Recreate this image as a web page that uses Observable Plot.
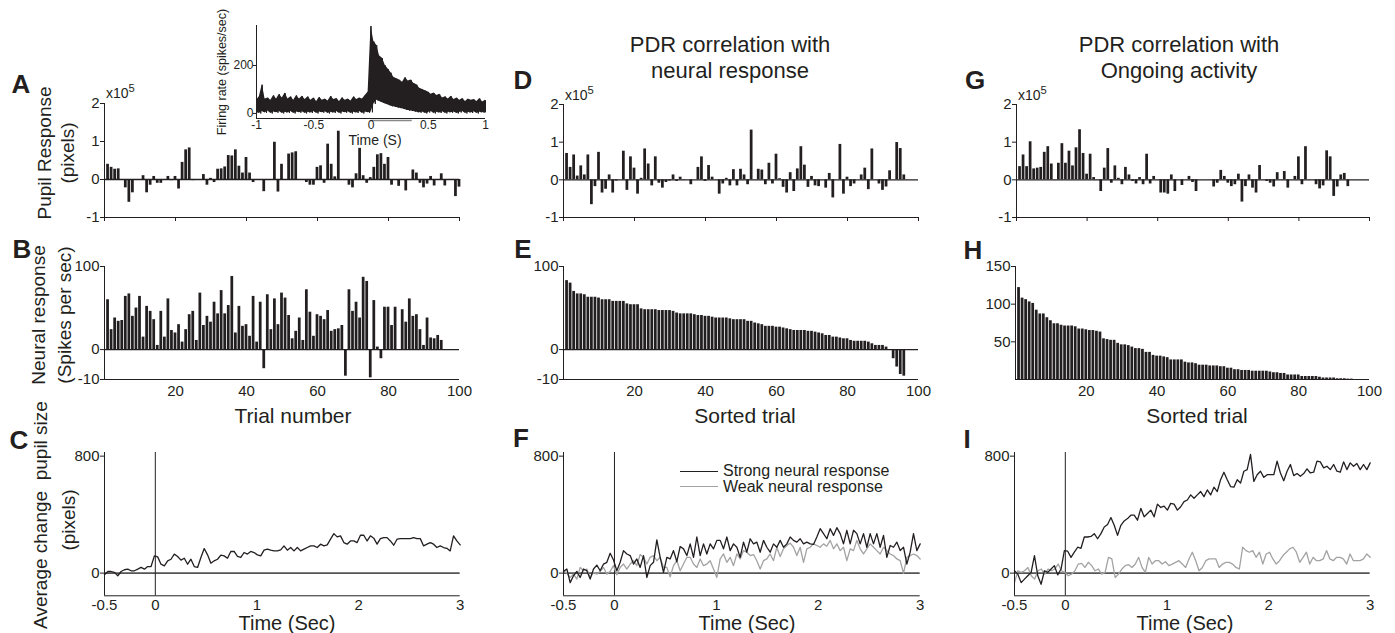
<!DOCTYPE html>
<html><head><meta charset="utf-8">
<script src="https://cdn.jsdelivr.net/npm/d3@7"></script>
<script src="https://cdn.jsdelivr.net/npm/@observablehq/plot@0.6"></script>
<style>
body{margin:0;background:#fff;}
#fig{position:relative;width:1395px;height:633px;overflow:hidden;font-family:"Liberation Sans",Arial,Helvetica,sans-serif;color:#231f20;background:#fff;}
.t{position:absolute;white-space:nowrap;line-height:1;}
sup{font-size:0.8em;vertical-align:0.55em;line-height:0;}
</style></head><body><div id="fig"></div>
<script>
// ---------------- DATA ----------------
// Panel A: pupil response per trial (x10^5 pixels)
const pupilA = [0.40,0.32,0.27,0.28,0,-0.22,-0.60,-0.35,0,0,
0.10,-0.35,-0.15,0.08,-0.10,-0.10,0,0.08,-0.03,0.08,
-0.25,0.45,0.78,0.83,-0.03,0,0,0.13,-0.15,0.03,
-0.08,0.27,0.28,0.33,0.63,0.62,0.78,0.35,0.17,0.58,
0.17,-0.08,0,0,-0.32,-0.02,0,0.98,-0.33,0.40,
0,0.67,0.70,0.73,0,0,-0.08,-0.15,-0.15,0.32,
0.36,-0.10,0.93,0.40,0.07,1.27,0,0,-0.15,-0.22,
0.15,0.82,0.10,-0.10,0.05,0.32,0.65,0.68,0.40,0.58,
-0.15,0,-0.18,0,-0.30,0,0.25,0.17,-0.10,-0.22,
-0.12,0.08,-0.17,0,0.15,-0.17,0,0,-0.45,-0.20];
// Panel B: neural response per trial (spikes/sec)
const neuralB = [60,24,38,34,35,64,67,40,50,64,
15,52,46,36,5,46,15,61,23,20,
30,9,24,42,46,11,68,29,40,33,
57,43,71,43,53,88,20,52,28,30,
16,64,9,57,-23,66,24,61,30,68,
62,41,13,22,38,11,72,45,16,42,
40,36,47,22,24,25,29,-32,72,46,
57,38,87,82,-34,59,3,-11,51,51,
29,51,0,48,33,61,40,42,24,5,
38,14,13,17,11];
// Panel D: pupil response sorted by neural response (x10^5)
const pupilD = [0.70,0.33,0.66,0.10,0.37,0.13,0.66,-0.66,-0.18,0.73,
-0.35,-0.25,0.13,-0.35,-0.03,0,0.76,-0.28,0.61,0.31,
-0.38,0.04,0.82,0.42,-0.16,0.61,-0.09,-0.22,-0.07,-0.03,
0.13,-0.04,0.07,-0.01,0,-0.13,0,0.33,0.61,-0.04,
0.38,0.07,0,-0.38,-0.11,0.04,-0.16,0.27,-0.16,0.28,
0.13,-0.13,1.32,0,0.28,0.26,-0.13,0.44,-0.11,0.68,
0.03,-0.20,-0.35,0.19,-0.31,0.29,0.88,0.39,-0.20,0.09,
-0.16,-0.18,0,-0.22,0.17,-0.48,0,0.94,-0.38,0.07,
-0.18,-0.11,0,0.13,0.31,-0.26,0.82,0,-0.11,-0.28,
-0.19,0.24,0,0.99,0.83,0.13];
// Panel E: sorted neural response
const neuralE = [83,80,70,67,67,66,63,63,63,62,
60,60,60,58,58,58,58,55,54,54,
54,49,48,48,48,48,47,47,47,47,
46,44,43,43,43,43,42,41,41,40,
40,39,38,38,38,38,37,36,36,36,
36,34,34,32,31,30,28,28,28,27,
27,26,25,24,23,23,23,23,22,22,
21,20,19,17,17,15,15,14,13,13,
11,10,10,10,10,9,7,5,5,5,
3,-1,-11,-21,-30,-32];
// Panel G: pupil response sorted by ongoing activity (x10^5)
const pupilG = [0.35,0.66,0.35,1.01,0.29,0.31,0.33,0.73,0.88,0.42,
0,0.44,0.96,0.44,0.76,0.37,0.85,1.33,0.70,0.15,
0.68,0.06,0,-0.31,0.31,0.83,-0.09,0.37,0.04,-0.13,
0.33,0.13,-0.04,-0.11,0.06,-0.13,0.68,-0.11,0.09,0,
-0.35,-0.35,-0.38,0.13,-0.31,0,-0.15,0,0.09,-0.07,
-0.31,0,0,0,0,-0.19,-0.09,0.25,0.09,-0.09,
-0.18,-0.13,0.15,-0.59,-0.18,0.13,-0.22,-0.35,0.38,0,
-0.04,-0.09,-0.19,0.19,0,0.22,-0.22,0,0.09,0.61,
-0.13,0.88,0,0,-0.13,-0.24,-0.16,0.77,0.61,-0.44,
-0.19,0.13,0.17,-0.18,0];
// Panel H: sorted ongoing activity
const ongoingH = [122,108,106,103,101,92,87,87,82,78,
74,74,72,71,71,71,70,67,67,66,
65,65,64,63,54,53,52,52,48,46,
46,45,43,41,41,40,36,36,32,31,
31,30,29,26,26,26,26,23,22,22,
21,19,19,19,18,18,18,17,17,15,
15,13,13,12,12,12,11,11,11,11,
11,10,9,9,8,8,6,6,6,6,
4,4,4,4,4,3,2,2,2,2,
1,1,1,0.5,0.5];
// Panels C, F, I: average change in pupil size (pixels), sampled -0.5..3 s
const avgC = [-11,11,11,5,-18,11,23,27,16,16,27,39,27,45,45,118,111,61,50,84,
95,130,114,89,102,61,95,45,39,107,168,125,68,84,95,123,118,102,148,148,
114,107,141,130,148,141,125,118,157,164,157,152,152,159,186,157,175,152,175,152,
164,175,186,186,175,198,186,193,232,270,248,255,209,198,220,220,209,259,259,220,
255,239,198,236,243,243,220,191,232,236,236,236,236,243,236,236,186,198,209,198,
175,186,175,170,152,255,220,193];
const strongF = [12,28,-65,-18,12,-30,28,16,-41,28,55,16,62,74,136,90,16,74,154,131,
120,62,97,39,120,-30,51,74,228,108,5,108,97,154,78,182,166,120,200,108,
247,120,200,131,200,166,224,224,166,247,154,200,177,108,212,143,235,200,212,143,
224,177,143,200,177,224,177,200,247,224,212,235,200,212,200,196,247,304,270,235,
304,258,311,270,200,293,200,293,270,200,270,177,270,200,270,177,258,108,189,177,
212,154,177,62,143,270,154,200];
const weakF = [16,0,-30,-7,-41,39,16,28,-30,5,-7,12,39,-7,12,51,-12,39,62,28,
62,85,51,127,108,62,108,120,85,108,39,39,-25,51,85,16,62,108,108,62,
39,97,51,62,85,28,-30,97,131,74,108,51,131,97,154,143,120,127,85,28,
85,97,131,85,177,113,166,189,205,177,120,177,74,166,177,200,189,177,200,184,
224,166,200,154,177,85,166,154,224,166,131,166,200,177,154,131,177,154,131,120,
97,85,-2,108,120,131,120,97];
const strongI = [16,-7,-65,-41,-18,5,120,-18,-76,16,5,28,51,-12,28,154,150,108,143,177,
170,247,247,251,270,235,270,316,332,380,327,258,327,357,373,396,396,362,443,385,
408,431,385,472,449,458,431,477,472,431,454,489,500,535,512,535,558,523,569,535,
588,558,639,690,639,592,588,639,616,697,708,812,627,673,697,655,673,673,673,766,
685,632,697,743,667,681,662,681,713,685,690,766,761,720,731,708,743,697,690,761,
708,754,731,750,708,743,708,754];
const weakI = [-65,16,5,16,39,-18,-41,16,28,-7,28,16,28,62,16,5,-18,-7,16,62,
67,39,74,51,16,28,-7,5,108,97,-30,-7,28,51,58,39,62,108,39,5,
108,62,85,85,62,78,51,62,74,85,62,39,97,143,85,16,39,85,97,97,
97,39,62,74,74,62,39,28,177,154,143,154,108,143,62,131,143,97,62,85,
120,143,166,177,143,74,108,143,62,108,85,85,97,154,97,85,108,108,97,62,
131,85,85,85,97,131,108];
// Inset: firing rate envelope (spikes/sec), 25 ms bins from -1 to 1 s
const psthHigh = [55,70,120,60,65,55,75,60,80,65,85,60,70,55,75,60,72,58,70,55,
65,50,68,55,60,52,72,58,62,50,66,55,60,52,70,58,65,60,75,90,
365,300,285,240,230,200,185,170,150,145,140,130,150,135,140,125,120,105,100,95,
90,80,85,75,80,65,70,60,72,58,65,55,62,50,60,55,58,50,62,48,55];
const psthLow = [5,0,8,2,10,0,6,3,8,0,5,2,8,0,6,3,7,0,5,2,
8,0,6,3,7,0,5,2,8,0,6,3,7,0,5,2,8,0,6,3,
5,40,55,50,45,40,35,30,28,25,22,20,15,12,10,8,5,3,6,0,
4,8,0,5,2,7,0,5,3,6,0,4,8,0,5,2,7,0,5,3,6];
const stimulus = [0, 0.36];
// Tick labels
const trialTicks = [0,20,40,60,80,100];
const trialLabels = ["","20","40","60","80","100"];
const pupilTicks = [-1,0,1,2];
const pupilLabels = ["-1","0","1","2"];
const neuralTicks = [-36,0,100];
const neuralLabels = ["-10","0","100"];
const ongoingTicks = [50,100,150];
const ongoingLabels = ["50","100","150"];
const timeTicks = [-0.5,0,1,2,3];
const timeLabels = ["-0.5","0","1","2","3"];
const sizeTicks = [0,800];
const sizeLabels = ["0","800"];
const insetXTicks = [-1,-0.5,0,0.5,1];
const insetXLabels = ["-1","-0.5","0","0.5","1"];
const insetYTicks = [0,200];
const insetYLabels = ["0","200"];

// ---------------- DRAWING ----------------
const INK = "#231f20";
const GRAY = "#a3a3a3";
const FONT = '"Liberation Sans", Arial, Helvetica, sans-serif';
const fig = document.getElementById("fig");
function place(svg, left, top) {
  svg.style.position = "absolute";
  svg.style.left = left + "px";
  svg.style.top = top + "px";
  svg.style.maxWidth = "none";
  fig.appendChild(svg);
}
function fmt(ticks, labels) { const m = new Map(ticks.map((t, i) => [t, labels[i]])); return d => m.get(d) ?? ""; }
function txt(html, x, y, size, o = {}) {
  const d = document.createElement("div");
  d.className = "t";
  d.innerHTML = html;
  d.style.left = x + "px";
  d.style.top = y + "px";
  d.style.fontSize = size + "px";
  if (o.bold) d.style.fontWeight = "bold";
  const ax = o.anchor === "start" ? "0" : o.anchor === "end" ? "-100%" : "-50%";
  if (o.rotate) {
    d.style.transformOrigin = "0 0";
    d.style.transform = "rotate(-90deg) translate(-50%,-50%)";
  } else {
    d.style.transform = `translate(${ax},-50%)`;
  }
  fig.appendChild(d);
  return d;
}
const M = {l: 60, r: 25, t: 15, b: 40};
function barPanel(o) {
  const data = o.vals.map((v, i) => ({trial: i + 1, v}));
  const svg = Plot.plot({
    width: o.x1 - o.x0 + M.l + M.r, height: o.y1 - o.y0 + M.t + M.b,
    marginLeft: M.l, marginRight: M.r, marginTop: M.t, marginBottom: M.b,
    x: {domain: [0, 100], label: null}, y: {domain: o.yDomain, label: null},
    style: {fontFamily: FONT, fontSize: "15px", color: INK, background: "transparent", overflow: "visible"},
    marks: [
      Plot.rect(data, {x1: d => d.trial - 0.5, x2: d => d.trial + 0.5, y1: 0, y2: "v", fill: INK, insetLeft: 0.4, insetRight: 0.4}),
      o.zero ? Plot.ruleY([0], {stroke: INK, strokeWidth: 1.3}) : null,
      Plot.ruleX([0], {stroke: INK}),
      Plot.ruleY([o.yDomain[0]], {stroke: INK}),
      Plot.axisY({ticks: o.yTicks, tickFormat: fmt(o.yTicks, o.yLabels), tickSize: 4, tickPadding: 1, label: null}),
      Plot.axisX({ticks: trialTicks, tickFormat: o.xLabels ? fmt(trialTicks, o.xLabels) : () => "", tickSize: o.xLabels ? 0 : 4, tickPadding: o.xLabels ? 6 : 2, label: null})
    ]
  });
  place(svg, o.x0 - M.l, o.y0 - M.t);
}
function linePanel(o) {
  const svg = Plot.plot({
    width: o.x1 - o.x0 + M.l + M.r, height: o.y1 - o.y0 + M.t + M.b,
    marginLeft: M.l, marginRight: M.r, marginTop: M.t, marginBottom: M.b,
    x: {domain: [-0.5, 3], label: null}, y: {domain: [-155, 825], label: null},
    style: {fontFamily: FONT, fontSize: "15px", color: INK, background: "transparent", overflow: "visible"},
    marks: [
      Plot.ruleY([0], {stroke: "#555", strokeWidth: 1.6}),
      Plot.ruleX([0], {stroke: INK, strokeWidth: 1}),
      ...o.series.map(s => Plot.line(s.vals.map((v, i) => ({t: -0.5 + i * 3.5 / (s.vals.length - 1), v})),
        {x: "t", y: "v", stroke: s.color, strokeWidth: 1.3})),
      Plot.ruleX([-0.5], {stroke: INK}),
      Plot.ruleY([-155], {stroke: INK}),
      Plot.axisY({ticks: sizeTicks, tickFormat: fmt(sizeTicks, sizeLabels), tickSize: 4, tickPadding: 1, label: null}),
      Plot.axisX({ticks: timeTicks, tickFormat: fmt(timeTicks, timeLabels), tickSize: 0, tickPadding: 4, label: null})
    ]
  });
  place(svg, o.x0 - M.l, o.y0 - M.t);
}

// Row 1
barPanel({vals: pupilA, x0: 104, x1: 459, y0: 102.5, y1: 216.5, yDomain: [-1, 2], yTicks: pupilTicks, yLabels: pupilLabels, zero: true});
barPanel({vals: pupilD, x0: 563, x1: 918, y0: 104, y1: 217, yDomain: [-1, 2], yTicks: pupilTicks, yLabels: pupilLabels, zero: true});
barPanel({vals: pupilG, x0: 1016, x1: 1369, y0: 104, y1: 217, yDomain: [-1, 2], yTicks: pupilTicks, yLabels: pupilLabels, zero: true});
// Row 2
barPanel({vals: neuralB, x0: 104, x1: 459, y0: 266, y1: 379, yDomain: [-36, 100], yTicks: neuralTicks, yLabels: neuralLabels, xLabels: trialLabels, zero: true});
barPanel({vals: neuralE, x0: 563, x1: 918, y0: 266, y1: 379, yDomain: [-36, 100], yTicks: neuralTicks, yLabels: neuralLabels, xLabels: trialLabels, zero: true});
barPanel({vals: ongoingH, x0: 1015, x1: 1369, y0: 266, y1: 379, yDomain: [0, 150], yTicks: ongoingTicks, yLabels: ongoingLabels, xLabels: trialLabels, zero: false});
// Row 3
linePanel({x0: 104.3, x1: 460, y0: 451.7, y1: 595, series: [{vals: avgC, color: INK}]});
linePanel({x0: 563.3, x1: 920, y0: 451.7, y1: 595, series: [{vals: weakF, color: GRAY}, {vals: strongF, color: INK}]});
linePanel({x0: 1014.3, x1: 1370, y0: 451.7, y1: 595, series: [{vals: weakI, color: GRAY}, {vals: strongI, color: INK}]});

// Inset PSTH
(function () {
  const data = psthHigh.map((h, i) => ({t: -1 + i * 0.025, hi: h, lo: psthLow[i]}));
  // jagged trace: each bin's high value followed by its low value half a bin later
  const zig = data.flatMap(d => [{t: d.t, v: d.hi}, {t: Math.min(1, d.t + 0.0125), v: d.lo}]);
  const m = {l: 40, r: 15, t: 8, b: 25};
  const x0 = 256, x1 = 485, y0 = 25, y1 = 118;
  const svg = Plot.plot({
    width: x1 - x0 + m.l + m.r, height: y1 - y0 + m.t + m.b,
    marginLeft: m.l, marginRight: m.r, marginTop: m.t, marginBottom: m.b,
    x: {domain: [-1, 1], label: null}, y: {domain: [-21, 367], label: null},
    style: {fontFamily: FONT, fontSize: "12px", color: INK, background: "transparent", overflow: "visible"},
    marks: [
      Plot.areaY(data, {x: "t", y1: "lo", y2: "hi", fill: INK}),
      Plot.line(zig, {x: "t", y: "v", stroke: INK, strokeWidth: 1}),
      Plot.ruleX([-1], {stroke: INK}),
      Plot.ruleY([-21], {stroke: INK}),
      Plot.ruleY([-21], {x1: stimulus[0], x2: stimulus[1], stroke: "#888", strokeWidth: 1.5, dy: 2}),
      Plot.axisY({ticks: insetYTicks, tickFormat: fmt(insetYTicks, insetYLabels), tickSize: 3, tickPadding: 0, label: null}),
      Plot.axisX({ticks: insetXTicks, tickFormat: fmt(insetXTicks, insetXLabels), tickSize: 0, tickPadding: 2, label: null})
    ]
  });
  place(svg, x0 - m.l, y0 - m.t);
})();

// ---------------- TEXT ----------------
// panel letters
[["A", 21, 84], ["B", 22, 249], ["C", 19, 440], ["D", 523, 80], ["E", 523, 249], ["F", 521, 438], ["G", 975, 80], ["H", 973, 250], ["I", 967, 439]]
  .forEach(([s, x, y]) => txt(s, x, y, 26, {bold: true}));
// titles
txt("PDR correlation with", 730, 45, 22);
txt("neural response", 730, 71, 22);
txt("PDR correlation with", 1179, 45, 22);
txt("Ongoing activity", 1179, 71, 22);
// x10^5
txt("x10<sup>5</sup>", 106, 93, 14, {anchor: "start"});
txt("x10<sup>5</sup>", 565, 95, 14, {anchor: "start"});
txt("x10<sup>5</sup>", 1018, 95, 14, {anchor: "start"});
// axis titles
txt("Pupil Response", 44, 153, 19, {rotate: true});
txt("(pixels)", 67, 153, 19, {rotate: true});
txt("Neural response", 38, 315, 19, {rotate: true});
txt("(Spikes per sec)", 64, 315, 19, {rotate: true});
txt("Average change&nbsp;&nbsp;pupil size", 40, 515, 19, {rotate: true});
txt("(pixels)", 68, 520, 19, {rotate: true});
txt("Trial number", 293, 415, 21);
txt("Sorted trial", 745, 415, 21);
txt("Sorted trial", 1197, 415, 21);
txt("Time (Sec)", 287, 623, 20);
txt("Time (Sec)", 747, 623, 20);
txt("Time (Sec)", 1185, 623, 20);
// inset labels
txt("Firing rate (spikes/sec)", 222, 72, 12.5, {rotate: true});
txt("Time (S)", 375, 140, 14);
// legend F
(function () {
  const mk = (y, c) => { const d = document.createElement("div"); d.style.cssText = `position:absolute;left:680px;top:${y}px;width:38px;border-top:1.4px solid ${c};`; fig.appendChild(d); };
  mk(471, INK); mk(486, GRAY);
  txt("Strong neural response", 723, 471, 16, {anchor: "start"});
  txt("Weak neural response", 723, 487, 16, {anchor: "start"});
})();
</script></body></html>
